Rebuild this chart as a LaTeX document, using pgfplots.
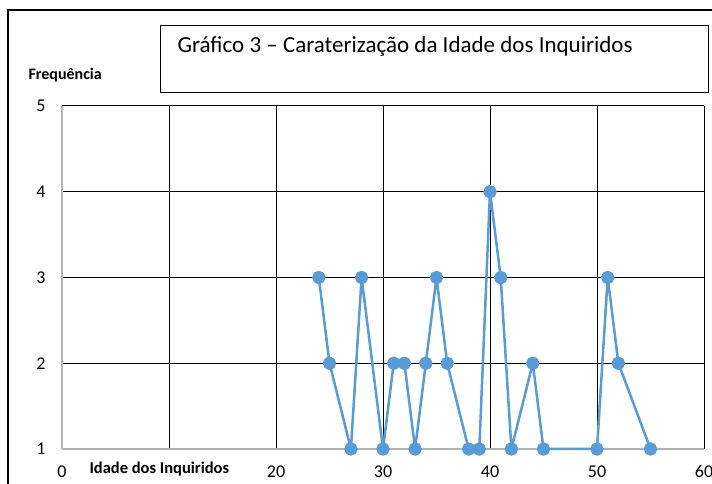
\documentclass[border=0pt]{standalone}
\usepackage{pgfplots}
\pgfplotsset{compat=1.18}
\usepackage{fontspec}
\setmainfont{Carlito}
\definecolor{serie}{HTML}{5B9BD5}
\begin{document}
\begin{tikzpicture}[x=1pt,y=1pt]
\useasboundingbox (0,0) rectangle (712,484);
\draw[black, line width=1.2pt] (8,-5) -- (8,474) -- (720,474);
\draw[black, line width=1pt] (160,391) rectangle (708,458);
\node[anchor=west, font=\fontsize{23}{25}\selectfont] at (174,438) {Gráfico 3 – Caraterização da Idade dos Inquiridos};
\node[anchor=west, font=\fontsize{16}{17}\selectfont\bfseries] at (25,409) {Frequência};
\begin{axis}[
  at={(62pt,35pt)}, anchor=south west,
  scale only axis, width=642pt, height=343pt,
  xmin=0, xmax=60, ymin=1, ymax=5,
  axis x line*=bottom, axis y line*=left,
  axis line style={gray!60, line width=1.2pt, -},
  xtick={10,20,30,40,50,60},
  xticklabels={,20,30,40,50,60},
  extra x ticks={0}, extra x tick labels={0},
  ytick={2,3,4,5},
  extra y ticks={1}, extra y tick labels={1},
  extra tick style={grid=none},
  grid=major,
  major grid style={black, line width=1pt},
  tick style={draw=none},
  ticklabel style={font=\fontsize{18}{19}\selectfont},
  /pgf/number format/assume math mode=true,
  xticklabel style={yshift=-13pt},
  yticklabel style={xshift=-13pt},
  clip=false,
]
\addplot[color=serie, line width=2.5pt, line join=round, mark=*, mark size=5.5pt, mark options={fill=serie, draw=none}]
coordinates {
(24,3) (25,2) (27,1) (28,3) (30,1) (31,2) (32,2) (33,1) (34,2) (35,3) (36,2) (38,1) (39,1) (40,4) (41,3) (42,1) (44,2) (45,1) (50,1) (51,3) (52,2) (55,1)
};
\end{axis}
\node[anchor=west, font=\fontsize{16.5}{17}\selectfont\bfseries] at (86,15) {Idade dos Inquiridos};
\end{tikzpicture}
\end{document}
